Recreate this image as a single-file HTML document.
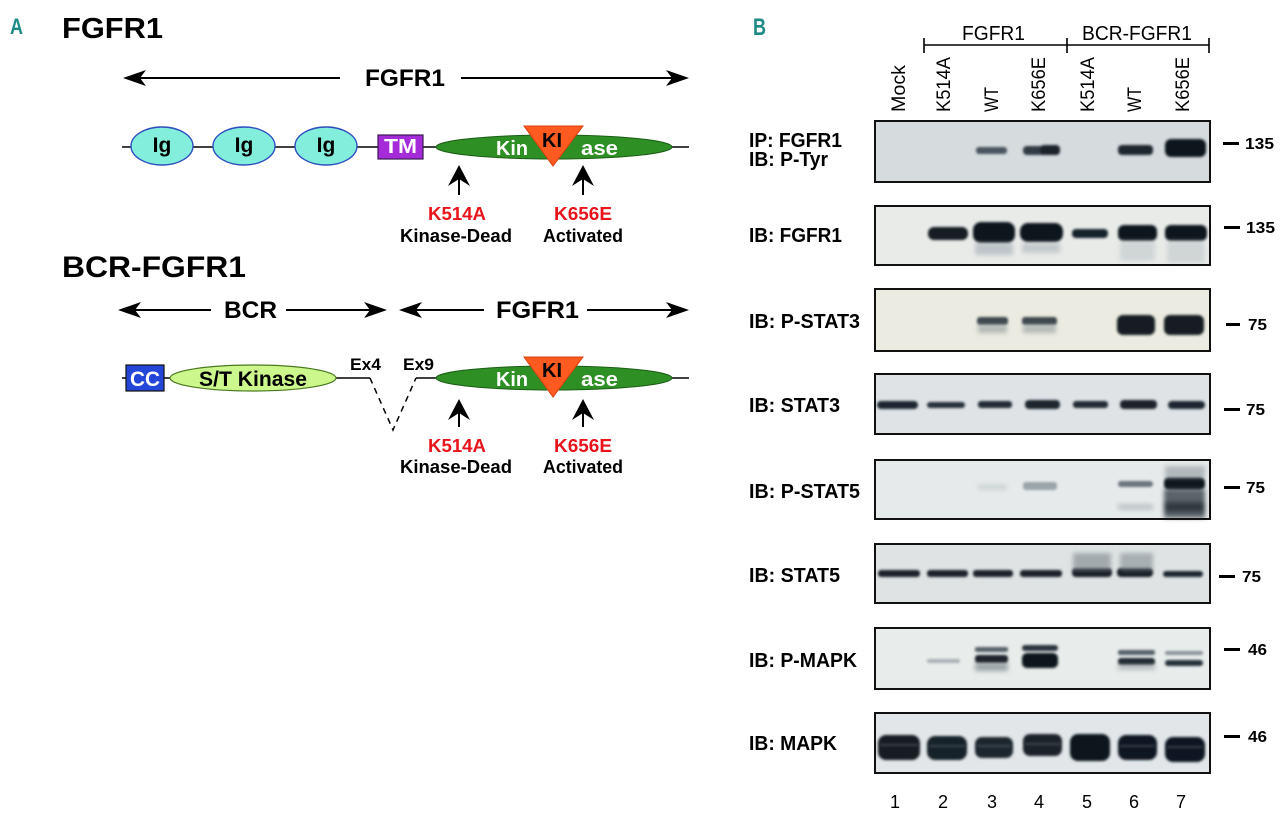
<!DOCTYPE html>
<html><head><meta charset="utf-8">
<style>
html,body{margin:0;padding:0;background:#fff;}
svg{display:block;}
text{font-family:"Liberation Sans",Arial,sans-serif;}
.b{font-weight:bold;}
</style></head>
<body>
<svg width="1280" height="817" viewBox="0 0 1280 817" xmlns="http://www.w3.org/2000/svg">
<defs>
<filter id="bl" x="-20%" y="-50%" width="140%" height="200%"><feGaussianBlur stdDeviation="1.3"/></filter>
<filter id="bl2" x="-20%" y="-50%" width="140%" height="200%"><feGaussianBlur stdDeviation="2.5"/></filter>
</defs>
<rect width="1280" height="817" fill="#fff"/>

<!-- ============ PANEL A ============ -->
<text x="10" y="34" class="b" font-size="22" fill="#1e8a86" textLength="13" lengthAdjust="spacingAndGlyphs">A</text>
<text x="62" y="38" class="b" font-size="29" fill="#000" textLength="101" lengthAdjust="spacingAndGlyphs">FGFR1</text>

<!-- row1 double arrow -->
<g stroke="#000" stroke-width="2">
<line x1="136" y1="78" x2="340" y2="78"/>
<line x1="461" y1="78" x2="676" y2="78"/>
</g>
<polygon points="123,78 146,70 140,78 146,86" fill="#000"/>
<polygon points="689,78 666,70 672,78 666,86" fill="#000"/>
<text x="365" y="86" class="b" font-size="24" textLength="80" lengthAdjust="spacingAndGlyphs">FGFR1</text>

<!-- row1 backbone -->
<line x1="122" y1="147" x2="689" y2="147" stroke="#000" stroke-width="1.6"/>
<g fill="#82eedb" stroke="#2f4fc0" stroke-width="1.4">
<ellipse cx="162" cy="146" rx="31" ry="19"/>
<ellipse cx="244" cy="146" rx="31" ry="19"/>
<ellipse cx="326" cy="146" rx="31" ry="19"/>
</g>
<g class="b" font-size="21" text-anchor="middle" fill="#000">
<text x="162" y="152" class="b">Ig</text>
<text x="244" y="152" class="b">Ig</text>
<text x="326" y="152" class="b">Ig</text>
</g>
<rect x="378" y="135" width="45" height="24" fill="#a52bd8" stroke="#3a1a50" stroke-width="1.2"/>
<text x="400.5" y="153" class="b" font-size="20" fill="#fff" text-anchor="middle" textLength="33" lengthAdjust="spacingAndGlyphs">TM</text>
<ellipse cx="554" cy="147" rx="118" ry="12" fill="#2e8f24" stroke="#1c5e16" stroke-width="1"/>
<polygon points="524,126 583,126 553,166" fill="#ff5a1f" stroke="#d84010" stroke-width="1"/>
<text x="552" y="147" class="b" font-size="20" fill="#000" text-anchor="middle">KI</text>
<text x="496" y="155" class="b" font-size="20" fill="#fff" textLength="32" lengthAdjust="spacingAndGlyphs">Kin</text>
<text x="581" y="155" class="b" font-size="20" fill="#fff" textLength="37" lengthAdjust="spacingAndGlyphs">ase</text>

<!-- row1 up arrows -->
<g stroke="#000" stroke-width="2"><line x1="459" y1="195" x2="459" y2="176"/><line x1="583" y1="195" x2="583" y2="176"/></g>
<polygon points="459,165 470,186 459,179 448,186" fill="#000"/>
<polygon points="583,165 594,186 583,179 572,186" fill="#000"/>
<g class="b" font-size="18" text-anchor="middle">
<text x="457" y="220" fill="#e8141c" class="b" textLength="58" lengthAdjust="spacingAndGlyphs">K514A</text>
<text x="583" y="220" fill="#e8141c" class="b" textLength="58" lengthAdjust="spacingAndGlyphs">K656E</text>
<text x="456" y="242" fill="#000" class="b" textLength="112" lengthAdjust="spacingAndGlyphs">Kinase-Dead</text>
<text x="583" y="242" fill="#000" class="b" textLength="80" lengthAdjust="spacingAndGlyphs">Activated</text>
</g>

<!-- row2 -->
<text x="62" y="277" class="b" font-size="30" fill="#000" textLength="184" lengthAdjust="spacingAndGlyphs">BCR-FGFR1</text>
<g stroke="#000" stroke-width="2">
<line x1="131" y1="310" x2="211" y2="310"/>
<line x1="286" y1="310" x2="374" y2="310"/>
<line x1="412" y1="310" x2="484" y2="310"/>
<line x1="587" y1="310" x2="676" y2="310"/>
</g>
<polygon points="118,310 141,302 135,310 141,318" fill="#000"/>
<polygon points="387,310 364,302 370,310 364,318" fill="#000"/>
<polygon points="399,310 422,302 416,310 422,318" fill="#000"/>
<polygon points="689,310 666,302 672,310 666,318" fill="#000"/>
<text x="224" y="318" class="b" font-size="24" textLength="53" lengthAdjust="spacingAndGlyphs">BCR</text>
<text x="496" y="318" class="b" font-size="24" textLength="83" lengthAdjust="spacingAndGlyphs">FGFR1</text>

<g stroke="#000" stroke-width="1.6">
<line x1="122" y1="378" x2="170" y2="378"/>
<line x1="336" y1="378" x2="370" y2="378"/>
<line x1="416" y1="378" x2="440" y2="378"/>
<line x1="668" y1="378" x2="689" y2="378"/>
</g>
<polyline points="370,378 393,430 416,378" fill="none" stroke="#000" stroke-width="1.5" stroke-dasharray="6,5"/>
<rect x="126" y="365" width="38" height="26" fill="#2346d8" stroke="#111" stroke-width="1.2"/>
<text x="145" y="386" class="b" font-size="21" fill="#fff" text-anchor="middle" textLength="30" lengthAdjust="spacingAndGlyphs">CC</text>
<ellipse cx="253" cy="378" rx="83" ry="13" fill="#ccf78c" stroke="#4a7a20" stroke-width="1.2"/>
<text x="253" y="386" class="b" font-size="21" fill="#000" text-anchor="middle" textLength="108" lengthAdjust="spacingAndGlyphs">S/T Kinase</text>
<text x="350" y="370" class="b" font-size="17" textLength="31" lengthAdjust="spacingAndGlyphs">Ex4</text>
<text x="403" y="370" class="b" font-size="17" textLength="31" lengthAdjust="spacingAndGlyphs">Ex9</text>

<ellipse cx="554" cy="378" rx="118" ry="12" fill="#2e8f24" stroke="#1c5e16" stroke-width="1"/>
<polygon points="524,357 583,357 553,397" fill="#ff5a1f" stroke="#d84010" stroke-width="1"/>
<text x="552" y="377" class="b" font-size="20" fill="#000" text-anchor="middle">KI</text>
<text x="496" y="386" class="b" font-size="20" fill="#fff" textLength="32" lengthAdjust="spacingAndGlyphs">Kin</text>
<text x="581" y="386" class="b" font-size="20" fill="#fff" textLength="37" lengthAdjust="spacingAndGlyphs">ase</text>

<g stroke="#000" stroke-width="2"><line x1="459" y1="427" x2="459" y2="410"/><line x1="583" y1="427" x2="583" y2="410"/></g>
<polygon points="459,399 470,420 459,413 448,420" fill="#000"/>
<polygon points="583,399 594,420 583,413 572,420" fill="#000"/>
<g class="b" font-size="18" text-anchor="middle">
<text x="457" y="452" fill="#e8141c" class="b" textLength="58" lengthAdjust="spacingAndGlyphs">K514A</text>
<text x="583" y="452" fill="#e8141c" class="b" textLength="58" lengthAdjust="spacingAndGlyphs">K656E</text>
<text x="456" y="473" fill="#000" class="b" textLength="112" lengthAdjust="spacingAndGlyphs">Kinase-Dead</text>
<text x="583" y="473" fill="#000" class="b" textLength="80" lengthAdjust="spacingAndGlyphs">Activated</text>
</g>

<!-- ============ PANEL B ============ -->
<text x="753" y="35" class="b" font-size="24" fill="#1e8a86" textLength="13" lengthAdjust="spacingAndGlyphs">B</text>

<text x="962" y="40" font-size="20" textLength="63" lengthAdjust="spacingAndGlyphs">FGFR1</text>
<text x="1082" y="40" font-size="20" textLength="110" lengthAdjust="spacingAndGlyphs">BCR-FGFR1</text>
<g stroke="#000" stroke-width="1.6">
<line x1="924" y1="45" x2="1209" y2="45"/>
<line x1="924" y1="38" x2="924" y2="53"/>
<line x1="1067" y1="38" x2="1067" y2="53"/>
<line x1="1209" y1="38" x2="1209" y2="53"/>
</g>
<g font-size="19">
<text transform="translate(905,112) rotate(-90)" textLength="47" lengthAdjust="spacingAndGlyphs">Mock</text>
<text transform="translate(950,112) rotate(-90)" textLength="55" lengthAdjust="spacingAndGlyphs">K514A</text>
<text transform="translate(998,112) rotate(-90)" textLength="25" lengthAdjust="spacingAndGlyphs">WT</text>
<text transform="translate(1045,112) rotate(-90)" textLength="55" lengthAdjust="spacingAndGlyphs">K656E</text>
<text transform="translate(1094,112) rotate(-90)" textLength="55" lengthAdjust="spacingAndGlyphs">K514A</text>
<text transform="translate(1141,112) rotate(-90)" textLength="25" lengthAdjust="spacingAndGlyphs">WT</text>
<text transform="translate(1189,112) rotate(-90)" textLength="55" lengthAdjust="spacingAndGlyphs">K656E</text>
</g>

<!-- labels -->
<g class="b" font-size="20.5" fill="#000">
<text x="749" y="147" class="b" textLength="93" lengthAdjust="spacingAndGlyphs">IP: FGFR1</text>
<text x="749" y="166" class="b" textLength="79" lengthAdjust="spacingAndGlyphs">IB: P-Tyr</text>
<text x="749" y="242" class="b" textLength="93" lengthAdjust="spacingAndGlyphs">IB: FGFR1</text>
<text x="749" y="328" class="b" textLength="111" lengthAdjust="spacingAndGlyphs">IB: P-STAT3</text>
<text x="749" y="412" class="b" textLength="91" lengthAdjust="spacingAndGlyphs">IB: STAT3</text>
<text x="749" y="498" class="b" textLength="111" lengthAdjust="spacingAndGlyphs">IB: P-STAT5</text>
<text x="749" y="582" class="b" textLength="91" lengthAdjust="spacingAndGlyphs">IB: STAT5</text>
<text x="749" y="667" class="b" textLength="108" lengthAdjust="spacingAndGlyphs">IB: P-MAPK</text>
<text x="749" y="750" class="b" textLength="88" lengthAdjust="spacingAndGlyphs">IB: MAPK</text>
</g>

<!-- blot backgrounds -->
<rect x="875" y="121" width="335" height="61" fill="#d6dbde"/>
<rect x="875" y="206" width="335" height="59" fill="#e9ebe9"/>
<rect x="875" y="289" width="335" height="62" fill="#ebebe1"/>
<rect x="875" y="374" width="335" height="60" fill="#dfe3e5"/>
<rect x="875" y="460" width="335" height="59" fill="#e7eaea"/>
<rect x="875" y="544" width="335" height="59" fill="#dfe3e3"/>
<rect x="875" y="628" width="335" height="61" fill="#e8ecea"/>
<rect x="875" y="713" width="335" height="60" fill="#e2e6e8"/>

<!-- bands -->
<g filter="url(#bl)">
<!-- P1 -->
<rect x="976" y="147" width="31" height="7" rx="3" fill="#4a5560"/>
<rect x="1023" y="146" width="37" height="9" rx="4" fill="#303a44"/>
<rect x="1040" y="145" width="20" height="10" rx="4" fill="#1a232c"/>
<rect x="1118" y="145" width="35" height="10" rx="4" fill="#1c252e"/>
<rect x="1165" y="139" width="41" height="18" rx="6" fill="#0e161e"/>
<!-- P2 -->
<rect x="928" y="227" width="40" height="13" rx="6" fill="#121a22"/>
<rect x="973" y="222" width="42" height="21" rx="8" fill="#0e161e"/>
<rect x="1020" y="223" width="43" height="19" rx="8" fill="#0e161e"/>
<rect x="1072" y="229" width="36" height="9" rx="4" fill="#18212a"/>
<rect x="1118" y="225" width="39" height="16" rx="6" fill="#0f171f"/>
<rect x="1165" y="225" width="42" height="16" rx="6" fill="#0f171f"/>
<!-- P3 -->
<rect x="977" y="317" width="31" height="8" rx="3" fill="#3c464e"/>
<rect x="1022" y="317" width="35" height="8" rx="3" fill="#3c464e"/>
<rect x="1117" y="315" width="38" height="20" rx="6" fill="#121a22"/>
<rect x="1164" y="315" width="40" height="20" rx="6" fill="#121a22"/>
<!-- P4 -->
<rect x="877" y="401" width="41" height="8" rx="4" fill="#1e2830"/>
<rect x="927" y="402" width="38" height="6" rx="3" fill="#25303a"/>
<rect x="978" y="401" width="34" height="7" rx="3" fill="#212c35"/>
<rect x="1025" y="400" width="35" height="9" rx="4" fill="#1c262e"/>
<rect x="1073" y="401" width="35" height="7" rx="3" fill="#212c35"/>
<rect x="1120" y="400" width="37" height="9" rx="4" fill="#1a242c"/>
<rect x="1168" y="401" width="37" height="8" rx="4" fill="#1e2830"/>
<!-- P5 -->
<rect x="1023" y="482" width="34" height="8" rx="3" fill="#9aa4a8"/>
<rect x="1118" y="481" width="35" height="6" rx="3" fill="#6a747c"/>
<rect x="1164" y="477" width="41" height="13" rx="5" fill="#0e161e"/>
<!-- P6 -->
<rect x="878" y="570" width="42" height="7" rx="3" fill="#1a232c"/>
<rect x="927" y="570" width="41" height="7" rx="3" fill="#1a232c"/>
<rect x="973" y="570" width="40" height="7" rx="3" fill="#1a232c"/>
<rect x="1020" y="570" width="42" height="7" rx="3" fill="#1a232c"/>
<rect x="1072" y="568" width="40" height="9" rx="4" fill="#141c24"/>
<rect x="1117" y="568" width="36" height="9" rx="4" fill="#141c24"/>
<rect x="1163" y="571" width="40" height="6" rx="3" fill="#1e2830"/>
<!-- P7 -->
<rect x="927" y="659" width="33" height="4" rx="2" fill="#a8b0b4"/>
<rect x="975" y="647" width="33" height="5" rx="2" fill="#58626a"/>
<rect x="975" y="655" width="33" height="8" rx="3" fill="#1a232c"/>
<rect x="1022" y="645" width="36" height="6" rx="3" fill="#2a343c"/>
<rect x="1022" y="653" width="36" height="15" rx="5" fill="#0e161e"/>
<rect x="1118" y="650" width="37" height="5" rx="2" fill="#56606a"/>
<rect x="1118" y="658" width="37" height="7" rx="3" fill="#1c262e"/>
<rect x="1165" y="651" width="38" height="4" rx="2" fill="#8a949a"/>
<rect x="1165" y="660" width="38" height="6" rx="3" fill="#27313a"/>
<!-- P8 -->
<rect x="878" y="735" width="42" height="25" rx="8" fill="#141c24"/>
<rect x="927" y="736" width="40" height="24" rx="8" fill="#18202a"/>
<rect x="975" y="737" width="38" height="21" rx="7" fill="#1c252e"/>
<rect x="1023" y="734" width="39" height="22" rx="7" fill="#1a232c"/>
<rect x="1070" y="734" width="40" height="27" rx="8" fill="#0e161e"/>
<rect x="1118" y="735" width="39" height="25" rx="8" fill="#111920"/>
<rect x="1165" y="737" width="40" height="25" rx="8" fill="#111920"/>
</g>
<!-- P8 gaps between double bands -->
<g filter="url(#bl)" fill="#5a646c" opacity="0.55">
<rect x="880" y="744" width="38" height="2"/>
<rect x="929" y="745" width="36" height="2"/>
<rect x="977" y="745" width="34" height="2"/>
<rect x="1025" y="743" width="35" height="2"/>
<rect x="1120" y="745" width="35" height="2"/>
<rect x="1167" y="746" width="36" height="2"/>
</g>
<!-- smears -->
<g filter="url(#bl2)">
<rect x="975" y="243" width="38" height="12" fill="#aab2b8" opacity="0.7"/>
<rect x="1022" y="243" width="38" height="10" fill="#aab2b8" opacity="0.6"/>
<rect x="1120" y="241" width="35" height="20" fill="#c0c6ca" opacity="0.6"/>
<rect x="1167" y="241" width="38" height="22" fill="#c0c6ca" opacity="0.6"/>
<rect x="978" y="325" width="29" height="8" fill="#9aa2a4" opacity="0.7"/>
<rect x="1023" y="325" width="33" height="8" fill="#9aa2a4" opacity="0.7"/>
<rect x="978" y="484" width="29" height="6" fill="#c8cfd2" opacity="0.8"/>
<rect x="1165" y="466" width="40" height="12" fill="#9aa2a8" opacity="0.7"/>
<rect x="1164" y="489" width="41" height="29" fill="#4a545c" opacity="0.9"/>
<rect x="1164" y="502" width="41" height="10" fill="#2a333b" opacity="0.85"/>
<rect x="1118" y="504" width="35" height="6" fill="#b4bcc0" opacity="0.8"/>
<rect x="1073" y="553" width="38" height="18" fill="#7a848a" opacity="0.6"/>
<rect x="1120" y="553" width="33" height="18" fill="#7a848a" opacity="0.55"/>
<rect x="975" y="663" width="33" height="8" fill="#6a747a" opacity="0.6"/>
<rect x="1118" y="664" width="37" height="6" fill="#8a9298" opacity="0.5"/>
</g>

<!-- blot borders -->
<g fill="none" stroke="#111" stroke-width="2">
<rect x="875" y="121" width="335" height="61"/>
<rect x="875" y="206" width="335" height="59"/>
<rect x="875" y="289" width="335" height="62"/>
<rect x="875" y="374" width="335" height="60"/>
<rect x="875" y="460" width="335" height="59"/>
<rect x="875" y="544" width="335" height="59"/>
<rect x="875" y="628" width="335" height="61"/>
<rect x="875" y="713" width="335" height="60"/>
</g>

<!-- markers -->
<g fill="#000">
<rect x="1223" y="142" width="16" height="3"/>
<rect x="1224" y="226" width="16" height="3"/>
<rect x="1226" y="323" width="14" height="3"/>
<rect x="1224" y="408" width="16" height="3"/>
<rect x="1224" y="486" width="16" height="3"/>
<rect x="1219" y="575" width="16" height="3"/>
<rect x="1224" y="648" width="16" height="3"/>
<rect x="1224" y="735" width="16" height="3"/>
</g>
<g class="b" font-size="16" fill="#000">
<text x="1245" y="149" class="b" textLength="29" lengthAdjust="spacingAndGlyphs">135</text>
<text x="1246" y="233" class="b" textLength="29" lengthAdjust="spacingAndGlyphs">135</text>
<text x="1248" y="330" class="b" textLength="19" lengthAdjust="spacingAndGlyphs">75</text>
<text x="1246" y="415" class="b" textLength="19" lengthAdjust="spacingAndGlyphs">75</text>
<text x="1246" y="493" class="b" textLength="19" lengthAdjust="spacingAndGlyphs">75</text>
<text x="1242" y="582" class="b" textLength="19" lengthAdjust="spacingAndGlyphs">75</text>
<text x="1248" y="655" class="b" textLength="19" lengthAdjust="spacingAndGlyphs">46</text>
<text x="1248" y="742" class="b" textLength="19" lengthAdjust="spacingAndGlyphs">46</text>
</g>

<!-- lane numbers -->
<g font-size="18" text-anchor="middle" fill="#000">
<text x="895" y="808">1</text>
<text x="943" y="808">2</text>
<text x="992" y="808">3</text>
<text x="1039" y="808">4</text>
<text x="1087" y="808">5</text>
<text x="1134" y="808">6</text>
<text x="1181" y="808">7</text>
</g>
</svg>
</body></html>
